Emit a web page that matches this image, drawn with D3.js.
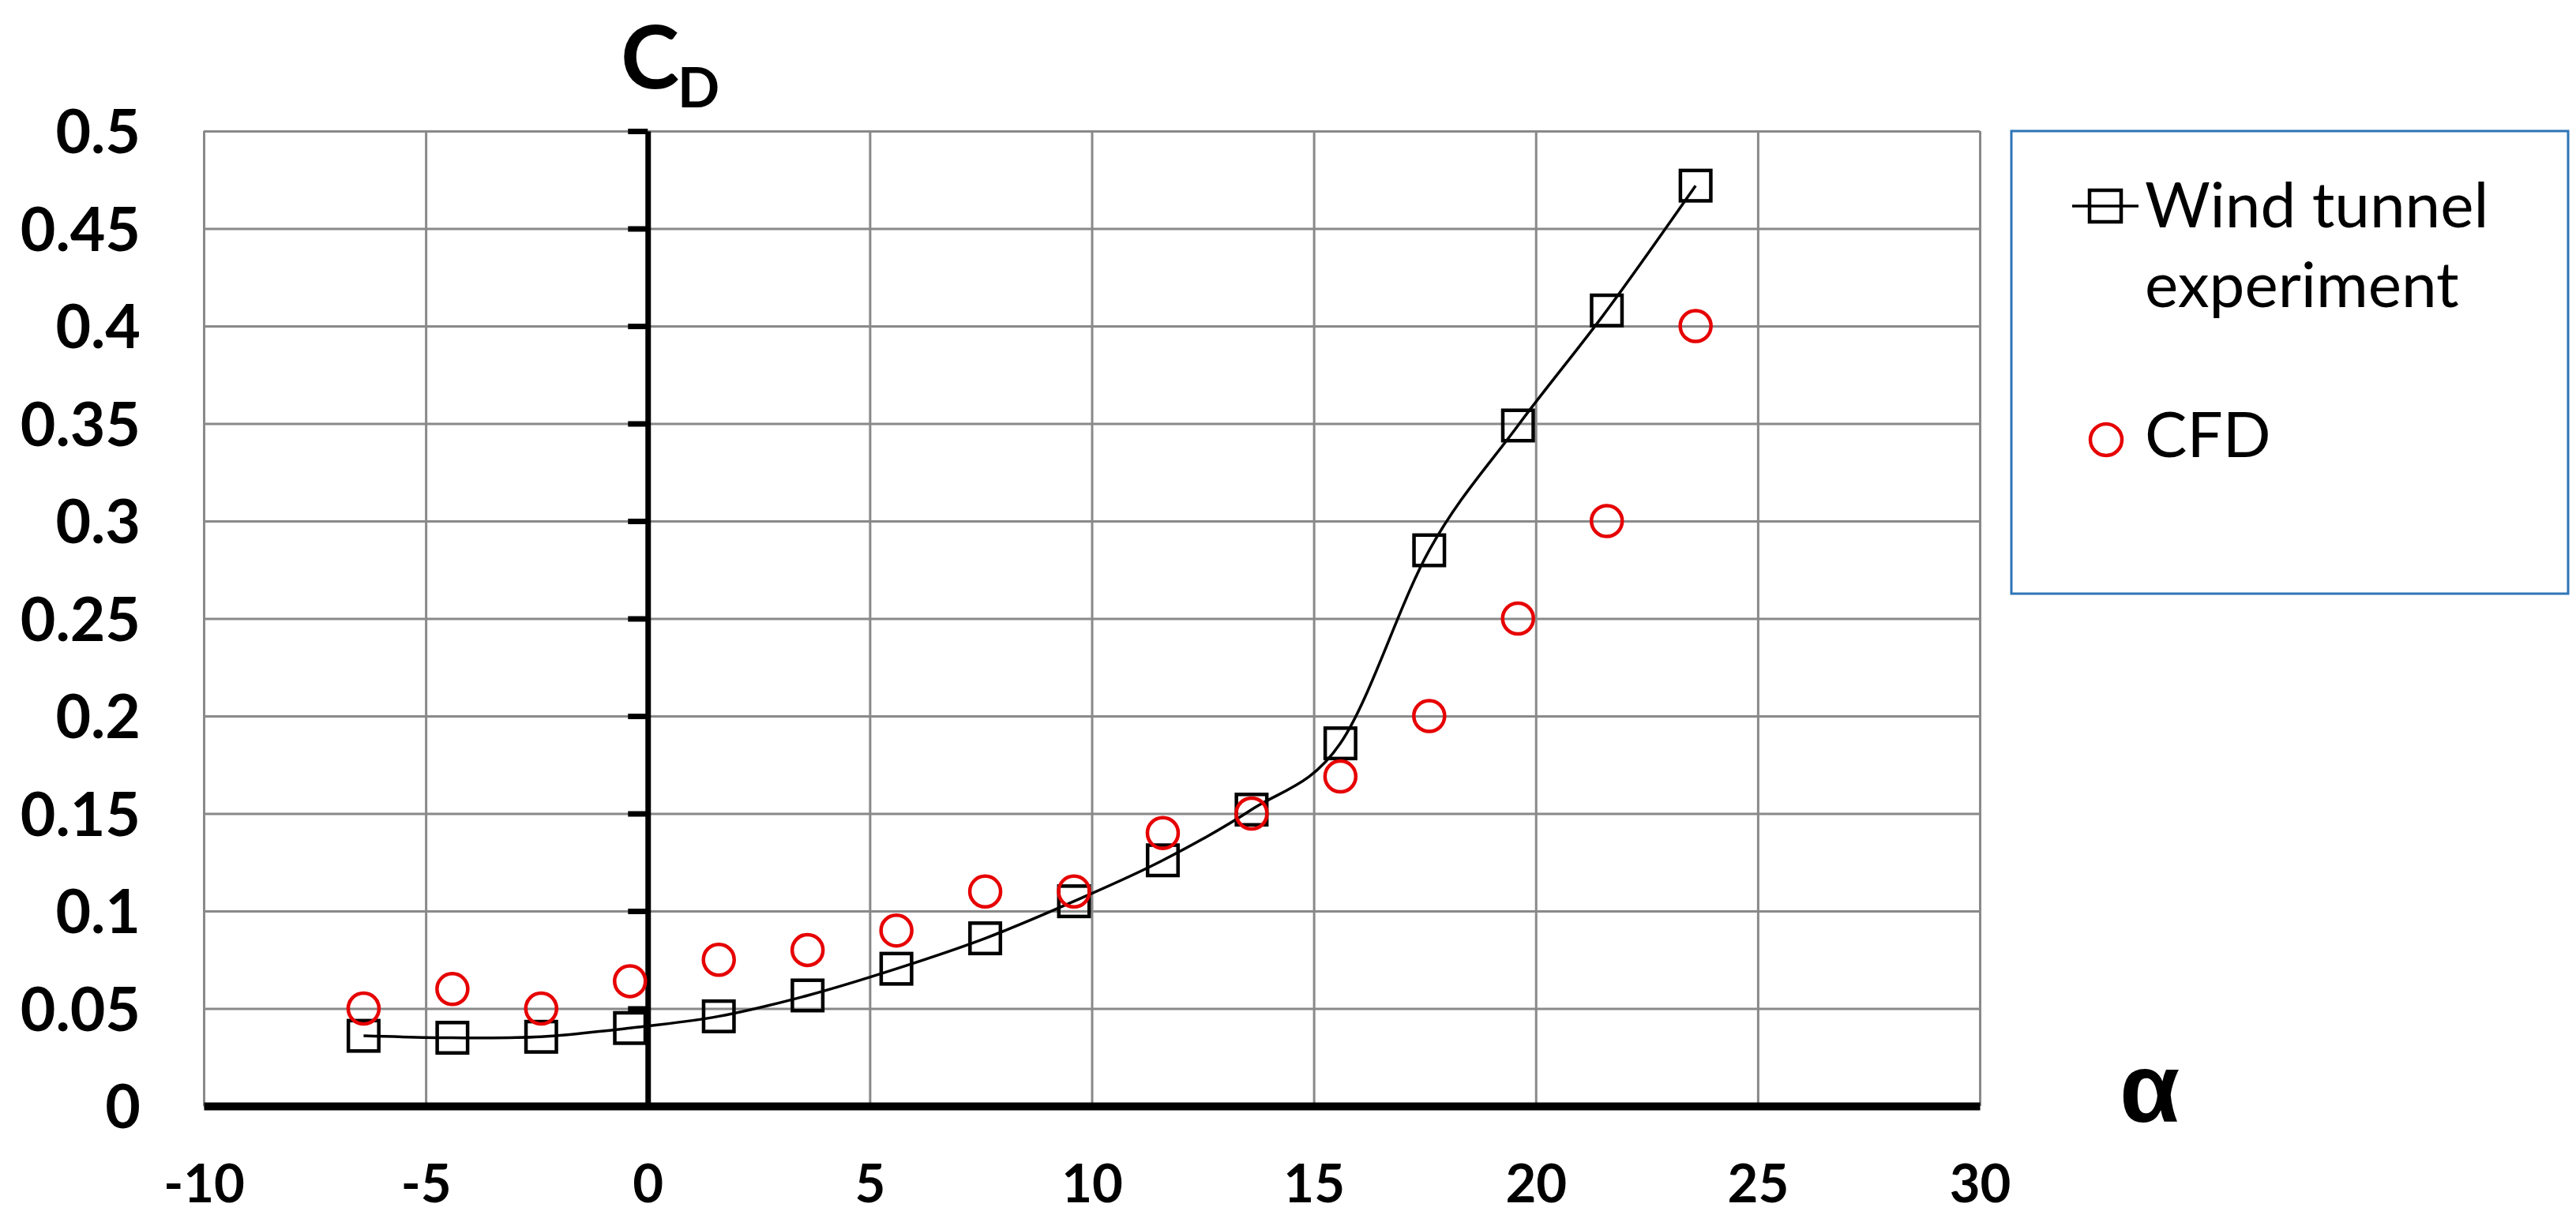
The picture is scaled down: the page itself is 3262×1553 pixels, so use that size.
<!DOCTYPE html>
<html><head><meta charset="utf-8">
<script src="https://cdn.jsdelivr.net/npm/d3@7"></script>
<style>html,body{margin:0;padding:0;background:#fff;} svg{display:block}</style>
</head><body>
<svg id="chart" width="3262" height="1553"></svg>
<script>
// ---- data ----
const alphaDeg   = [-6.4, -4.4, -2.4, -0.4, 1.6, 3.6, 5.6, 7.6, 9.6, 11.6, 13.6, 15.6, 17.6, 19.6, 21.6, 23.6];
const windTunnel = [0.036, 0.035, 0.0355, 0.040, 0.046, 0.0567, 0.0704, 0.086, 0.105, 0.126, 0.152, 0.186, 0.285, 0.349, 0.408, 0.472];
const cfd        = [0.050, 0.060, 0.050, 0.064, 0.075, 0.080, 0.090, 0.110, 0.110, 0.140, 0.150, 0.169, 0.200, 0.250, 0.300, 0.400];
const xTicks      = [-10, -5, 0, 5, 10, 15, 20, 25, 30];
const xTickLabels = ["-10", "-5", "0", "5", "10", "15", "20", "25", "30"];
const yTicks      = [0, 0.05, 0.1, 0.15, 0.2, 0.25, 0.3, 0.35, 0.4, 0.45, 0.5];
const yTickLabels = ["0", "0.05", "0.1", "0.15", "0.2", "0.25", "0.3", "0.35", "0.4", "0.45", "0.5"];
const seriesNames = [["Wind tunnel", "experiment"], ["CFD"]];
const yTitleMain = "C", yTitleSub = "D", xTitle = "α";

// ---- layout ----
const L = 258, R = 2507, T = 166, B = 1401;
const svg = d3.select("#chart");
svg.append("rect").attr("width", 3262).attr("height", 1553).attr("fill", "#fff");

const x = d3.scaleLinear().domain([-10, 30]).range([L, R]);
const y = d3.scaleLinear().domain([0, 0.5]).range([B, T]);

const gridColor = "#898989";
// vertical gridlines
const gx = svg.append("g").attr("transform", `translate(0,${B})`)
  .call(d3.axisBottom(x).tickValues(xTicks).tickSize(-(B - T)).tickFormat(""));
gx.select(".domain").remove();
gx.selectAll("line").attr("stroke", gridColor).attr("stroke-width", 3);
// horizontal gridlines
const gy = svg.append("g").attr("transform", `translate(${L},0)`)
  .call(d3.axisLeft(y).tickValues(yTicks).tickSize(-(R - L)).tickFormat(""));
gy.select(".domain").remove();
gy.selectAll("line").attr("stroke", gridColor).attr("stroke-width", 3);

// y tick labels (at the left of the plot)
const yl = svg.append("g").attr("transform", `translate(${L},0)`)
  .call(d3.axisLeft(y).tickValues(yTicks).tickSize(0).tickPadding(80)
    .tickFormat((d, i) => yTickLabels[i]));
yl.select(".domain").remove();
yl.selectAll("text").attr("font-family", "Lato, 'Liberation Sans', sans-serif")
  .attr("font-weight", "bold").attr("font-size", 77).attr("fill", "#000").attr("dy", "0.36em");

// vertical axis crossing at alpha = 0
const ya = svg.append("g").attr("transform", `translate(${x(0)},0)`)
  .call(d3.axisLeft(y).tickValues(yTicks).tickSize(25).tickSizeOuter(0).tickFormat(""));
ya.select(".domain").attr("stroke", "#000").attr("stroke-width", 7);
ya.selectAll("line").attr("stroke", "#000").attr("stroke-width", 7);

// horizontal axis at CD = 0
const xa = svg.append("g").attr("transform", `translate(0,${y(0)})`)
  .call(d3.axisBottom(x).tickValues(xTicks).tickSize(0).tickSizeOuter(0).tickPadding(74)
    .tickFormat((d, i) => xTickLabels[i]));
xa.select(".domain").attr("stroke", "#000").attr("stroke-width", 10);
xa.selectAll("text").attr("font-family", "Lato, 'Liberation Sans', sans-serif")
  .attr("font-weight", "bold").attr("font-size", 67).attr("fill", "#000");

// axis titles
svg.append("text").attr("x", 786).attr("y", 112)
  .attr("font-family", "Lato, 'Liberation Sans', sans-serif").attr("font-weight", "bold")
  .attr("font-size", 112).attr("fill", "#000").text(yTitleMain);
svg.append("text").attr("x", 858).attr("y", 136)
  .attr("font-family", "Lato, 'Liberation Sans', sans-serif").attr("font-weight", "bold")
  .attr("font-size", 70).attr("fill", "#000").text(yTitleSub);
svg.append("text").attr("x", 2684).attr("y", 1421)
  .attr("font-family", "'Liberation Sans', 'DejaVu Sans', sans-serif").attr("font-weight", "bold")
  .attr("font-size", 124).attr("fill", "#000").text(xTitle);

// ---- series ----
const windData = alphaDeg.map((a, i) => [a, windTunnel[i]]);
const cfdData = alphaDeg.map((a, i) => [a, cfd[i]]);
const red = "#e60000";
const sq = 38.5;

const line = d3.line().x(d => x(d[0])).y(d => y(d[1])).curve(d3.curveCardinal.tension(0));
svg.append("path").datum(windData).attr("d", line)
  .attr("fill", "none").attr("stroke", "#000").attr("stroke-width", 3.5);

svg.append("g").selectAll("rect").data(windData).join("rect")
  .attr("x", d => x(d[0]) - sq / 2).attr("y", d => y(d[1]) - sq / 2)
  .attr("width", sq).attr("height", sq)
  .attr("fill", "none").attr("stroke", "#000").attr("stroke-width", 4.5);

svg.append("g").selectAll("circle").data(cfdData).join("circle")
  .attr("cx", d => x(d[0])).attr("cy", d => y(d[1])).attr("r", 19.5)
  .attr("fill", "none").attr("stroke", red).attr("stroke-width", 4.5);

// ---- legend ----
const lg = svg.append("g");
lg.append("rect").attr("x", 2547).attr("y", 166).attr("width", 705).attr("height", 586)
  .attr("fill", "#fff").attr("stroke", "#2e75b6").attr("stroke-width", 3);
const legFont = "Lato, 'Liberation Sans', sans-serif";
// item 1
lg.append("line").attr("x1", 2624).attr("x2", 2708).attr("y1", 261).attr("y2", 261)
  .attr("stroke", "#000").attr("stroke-width", 3.5);
lg.append("rect").attr("x", 2666 - 20).attr("y", 261 - 20).attr("width", 40).attr("height", 40)
  .attr("fill", "none").attr("stroke", "#000").attr("stroke-width", 4.5);
const t1 = lg.append("text").attr("font-family", legFont).attr("font-size", 80).attr("fill", "#000");
seriesNames[0].forEach((s, i) => t1.append("tspan").attr("x", 2716).attr("y", 288 + i * 101).text(s));
// item 2
lg.append("circle").attr("cx", 2667).attr("cy", 557).attr("r", 20)
  .attr("fill", "none").attr("stroke", red).attr("stroke-width", 4.5);
lg.append("text").attr("x", 2716).attr("y", 579).attr("font-family", legFont)
  .attr("font-size", 80).attr("fill", "#000").text(seriesNames[1][0]);
</script>
</body></html>
